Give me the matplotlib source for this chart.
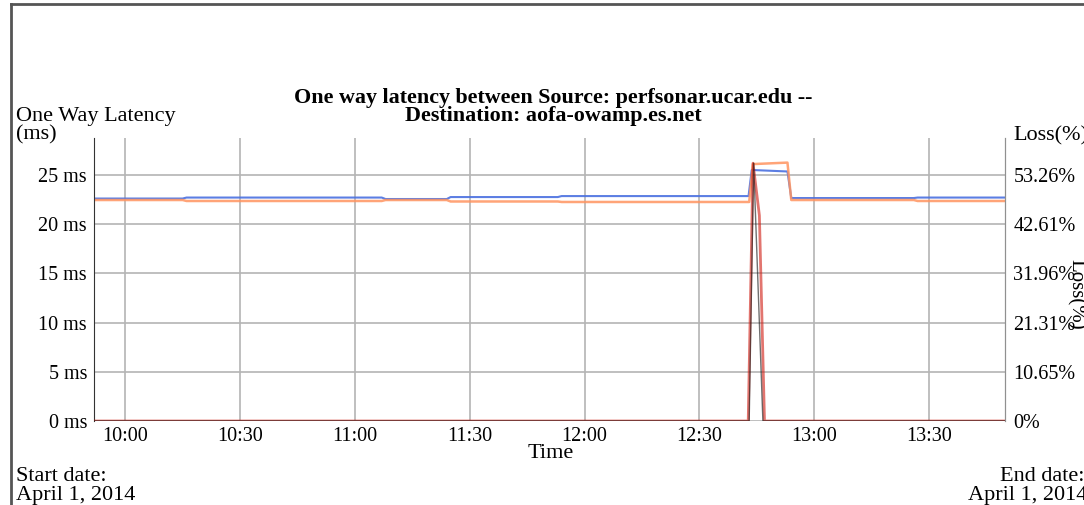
import matplotlib
matplotlib.use("Agg")
import matplotlib.pyplot as plt
from matplotlib.lines import Line2D

# ---------------- data ----------------
lat_blue_times = ["09:52", "10:15", "10:16", "11:07", "11:08", "11:24", "11:25", "11:53",
                  "11:54", "12:42:50", "12:43:40", "12:53", "12:54", "13:26", "13:27", "13:50"]
lat_blue_ms = [22.6, 22.6, 22.7, 22.7, 22.55, 22.55, 22.75, 22.75,
               22.85, 22.85, 25.5, 25.35, 22.65, 22.65, 22.7, 22.7]

lat_orange_times = ["09:52", "10:15", "10:16", "11:07", "11:08", "11:24", "11:25", "11:53",
                    "11:54", "12:43", "12:44", "12:53", "12:54", "13:26", "13:27", "13:50"]
lat_orange_ms = [22.45, 22.45, 22.35, 22.35, 22.45, 22.45, 22.3, 22.3,
                 22.25, 22.25, 26.1, 26.25, 22.45, 22.45, 22.35, 22.35]

loss_black_times = ["09:52", "12:43", "12:44:10", "12:46:35", "13:50"]
loss_black_pct = [0, 0, 55.8, 0, 0]

loss_red_times = ["09:52", "12:42:45", "12:44", "12:45:40", "12:47", "13:50"]
loss_red_pct = [0, 0, 55.8, 44.5, 0, 0]

x_tick_labels = ["10:00", "10:30", "11:00", "11:30", "12:00", "12:30", "13:00", "13:30"]
y_ticks_ms = [0, 5, 10, 15, 20, 25]
y_tick_labels = ["0 ms", "5 ms", "10 ms", "15 ms", "20 ms", "25 ms"]
loss_tick_labels = ["0%", "10.65%", "21.31%", "31.96%", "42.61%", "53.26%"]
loss_per_ms = 53.26 / 25.0


def to_min(s):
    parts = [int(p) for p in s.split(":")]
    m = parts[0] * 60 + parts[1]
    if len(parts) > 2:
        m += parts[2] / 60.0
    return m


W, H = 1084, 505
fig = plt.figure(figsize=(W / 100, H / 100), dpi=100)
plt.rcParams['font.family'] = ['Liberation Serif', 'DejaVu Serif']

FS_TICK = 14.5
FS = 16
x0, x1 = 94, 1005
y_top, y_bot = 138, 421
ax = fig.add_axes([x0 / W, 1 - y_bot / H, (x1 - x0) / W, (y_bot - y_top) / H])

xmin, xmax = to_min("09:51:50"), to_min("13:49:50")
ymax = 28.75
ax.set_xlim(xmin, xmax)
ax.set_ylim(0, ymax)

grid_c = "#b4b4b4"
ax.set_xticks([to_min(t) for t in x_tick_labels])
ax.set_xticklabels(x_tick_labels, fontsize=FS_TICK)
ax.set_yticks(y_ticks_ms)
ax.set_yticklabels(y_tick_labels, fontsize=FS_TICK)
ax.tick_params(axis="x", length=0, pad=4)
ax.tick_params(axis="y", length=0, pad=5)
ax.grid(True, color=grid_c, linewidth=1.2)
ax.set_axisbelow(True)
ax.spines["top"].set_visible(False)
ax.spines["right"].set_color("#909090")
ax.spines["left"].set_color("#333333")
ax.spines["bottom"].set_visible(False)

ax.plot([to_min(t) for t in lat_blue_times], lat_blue_ms, color="#4a70e0", lw=1.5, alpha=0.9)
ax.plot([to_min(t) for t in lat_orange_times], lat_orange_ms, color="#ff9460", lw=1.8, alpha=0.85)

ax2 = ax.twinx()
ax2.set_ylim(0, ymax * loss_per_ms)
ax2.set_yticks([v * loss_per_ms for v in y_ticks_ms])
ax2.set_yticklabels(loss_tick_labels, fontsize=FS_TICK)
ax2.tick_params(axis="y", length=0, pad=6)
for side in ["top", "left", "bottom"]:
    ax2.spines[side].set_visible(False)
ax2.spines["right"].set_color("#909090")
ax2.plot([to_min(t) for t in loss_red_times], loss_red_pct, color="#d01a10", lw=2.0, alpha=0.6)
ax2.plot([to_min(t) for t in loss_black_times], loss_black_pct, color="#111111", lw=1.0, alpha=0.6)


def ftext(x, y, s, **kw):
    fig.text(x / W, 1 - y / H, s, fontsize=kw.pop("fontsize", FS),
             va=kw.pop("va", "baseline"), **kw)


ftext(553, 102.5, "One way latency between Source: perfsonar.ucar.edu --", ha="center",
      fontweight="bold", fontsize=15.8)
ftext(553, 121.5, "Destination: aofa-owamp.es.net", ha="center", fontweight="bold", fontsize=15.8)
ftext(16, 121, "One Way Latency", ha="left")
ftext(16, 139.5, "(ms)", ha="left")
ftext(1013, 140, "Loss(%)", ha="left")
ftext(1076, 294, "Loss(%)", ha="center", va="center", rotation=270, fontsize=15)
ftext(551, 458, "Time", ha="center")
ftext(16, 481, "Start date:", ha="left")
ftext(16, 500, "April 1, 2014", ha="left")
ftext(1084, 481, "End date:", ha="right")
ftext(1087, 500, "April 1, 2014", ha="right")

# outer frame (top and left edges)
fig.add_artist(Line2D([10.5 / W, 1.0], [1 - 3.5 / H, 1 - 3.5 / H], transform=fig.transFigure,
                      color="#555555", lw=2))
fig.add_artist(Line2D([10.5 / W, 10.5 / W], [0, 1 - 3.5 / H], transform=fig.transFigure,
                      color="#555555", lw=2))

fig.savefig("out.png", dpi=100)
